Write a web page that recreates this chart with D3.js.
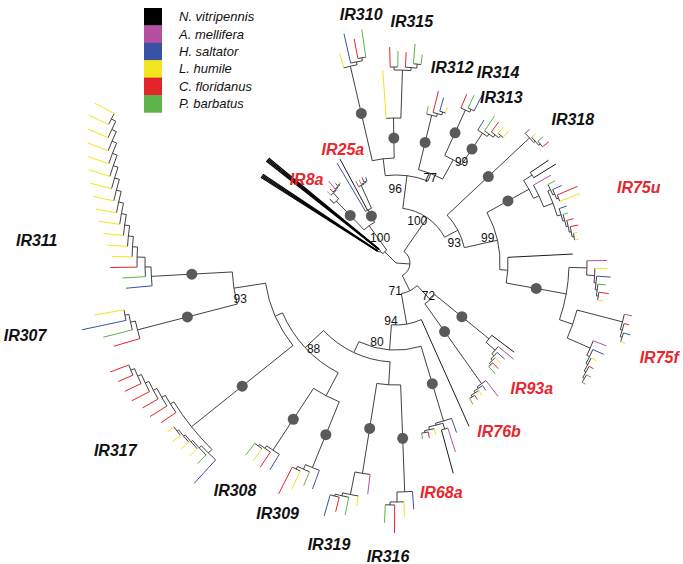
<!DOCTYPE html>
<html><head><meta charset="utf-8">
<script src="https://cdn.jsdelivr.net/npm/d3@7"></script>
<style>html,body{margin:0;padding:0;background:#fff;} svg{display:block;}</style>
</head><body>
<svg id="chart" width="683" height="564"></svg>
<script>
// ---------------- DATA ----------------
const SPECIES_NAMES = ["N. vitripennis", "A. mellifera", "H. saltator", "L. humile", "C. floridanus", "P. barbatus"];
const SPECIES_CODES = ["N", "A", "H", "L", "C", "P"];

// backbone of the tree (branch lengths, bootstrap support as internal labels); clade names are placeholders
const BACKBONE = "(((((IR310:0.97,IR315:0.40):0.17,(IR312:0.56,(IR314:0.50,IR313:0.38)99:0.22)77:0.08)96:0.33,(IR318:1.13,(IR75u:0.48,IR75f:0.08)99:0.34)93:0.15)100:0.41,((IR93a:0.70,IR76b:0.68)72:0.19,(X:1.17,(IR68a:0.78,((IR316:1.07,IR319:0.91):0.23,((IR309:0.71,IR308:0.74):0.26,(IR317:1.30,(IR307:1.03,IR311:0.81)93:0.32):0.08)88:0.25):0.12)80:0.25)94:0.31)71:0.17):0.14,((OUT1:0.02,OUT2:0.02):0.04,(IR8a:0.40,IR25a:0.14)100:0.30):0.16)";

const CLADE_NAMES = ["IR310", "IR315", "IR312", "IR314", "IR313", "IR318", "IR75u", "IR75f", "IR93a", "IR76b", "IR68a",
  "IR316", "IR319", "IR309", "IR308", "IR317", "IR307", "IR311", "OUT1", "OUT2", "IR8a", "IR25a"];
const CLADE_TREES = [
  "(L:0.15,(H:0.30,(C:0.20,P:0.28):0.03):0.03)o",
  "(L:0.48,((C:0.20,P:0.16):0.03,(C:0.15,(P:0.20,P:0.10):0.04):0.03):0.48)o",
  "(P:0.08,(C:0.22,(H:0.14,L:0.06):0.03):0.03)o",
  "(C:0.15,(P:0.14,H:0.18):0.03)o",
  "(H:0.12,(P:0.18,(C:0.12,(L:0.08,L:0.09):0.03):0.03):0.03)o",
  "(H:0.06,(L:0.05,(P:0.07,C:0.08):0.02):0.02)o",
  "((X:0.22,X:0.26):0.10,(A:0.20,((P:0.08,(H:0.10,(C:0.22,L:0.22):0.02):0.02):0.03,(H:0.08,(P:0.05,(C:0.07,(C:0.08,(L:0.04,L:0.04):0.02):0.02):0.02):0.02):0.04):0.10):0.06)o",
  "(X:0.65,((A:0.20,(L:0.12,(H:0.14,(P:0.08,(C:0.10,L:0.06):0.02):0.02):0.02):0.08):0.18,((A:0.08,(C:0.05,(H:0.07,L:0.05):0.02):0.02):0.47,(A:0.14,(H:0.12,(L:0.06,(C:0.05,(P:0.05,P:0.04):0.02):0.02):0.02):0.03):0.25):0.14)o:0.61)",
  "(X:0.28,(A:0.20,(H:0.10,(L:0.08,(C:0.08,P:0.10):0.02):0.02):0.03):0.12)o",
  "((A:0.20,(H:0.06,(L:0.06,(C:0.05,P:0.07):0.02):0.02):0.02):0.30)o",
  "(H:0.15,((A:0.25,X:0.45):0.06,(L:0.06,(C:0.06,P:0.06):0.02):0.03):0.02)o",
  "(H:0.18,(L:0.15,(C:0.28,P:0.18):0.03):0.10)o",
  "(A:0.20,(L:0.10,(P:0.18,(C:0.15,H:0.22):0.02):0.03):0.23)o",
  "(H:0.20,(P:0.15,(L:0.20,C:0.30):0.03):0.05)o",
  "(H:0.18,(C:0.18,(L:0.15,P:0.15):0.02):0.03)o",
  "((H:0.32,(P:0.12,(L:0.10,(L:0.10,(L:0.10,L:0.08):0.02):0.02):0.02):0.03):0.05,(C:0.18,(C:0.20,(C:0.18,(C:0.20,(C:0.18,(C:0.16,C:0.20):0.04):0.04):0.04):0.04):0.04):0.04)o",
  "(C:0.27,(P:0.30,(H:0.45,L:0.30):0.04):0.05)o",
  "(H:0.26,(P:0.23,(C:0.27,(L:0.20,(L:0.20,(L:0.20,(L:0.21,(L:0.21,(L:0.21,(L:0.22,(L:0.22,(L:0.22,(L:0.22,(L:0.22,(L:0.22,L:0.22):0.05):0.05):0.05):0.05):0.05):0.05):0.05):0.05):0.05):0.05):0.05):0.05):0.08):0.06)o",
  "(N:1.38,N:1.38,N:1.38,N:1.38)",
  "(N:1.43,N:1.43,N:1.43,N:1.43)",
  "(X:0.06,(P:0.05,(C:0.04,(A:0.10,(H:0.03,L:0.03):0.01):0.01):0.01):0.08)o",
  "(H:0.56,X:0.58,(A:0.06,(P:0.05,(C:0.05,H:0.04):0.01):0.01):0.25)o"
];
const CLADE_LABELS = ["IR310", "IR315", "IR312", "IR314", "IR313", "IR318", "IR75u", "IR75f", "IR93a", "IR76b", "IR68a",
  "IR316", "IR319", "IR309", "IR308", "IR317", "IR307", "IR311", "IR8a", "IR25a"];
const CONSERVED_CLADES = ["IR8a", "IR25a", "IR75u", "IR75f", "IR93a", "IR76b", "IR68a"];

// ---------------- STYLE / LAYOUT ----------------
const W = 683, H = 564;
const CENTER = [396, 263];
const START_ANGLE = 345;
const COLOR = { N: "#000000", X: "#1c1c1c", A: "#b4509f", H: "#3953a4", L: "#f1e51d", C: "#e4242b", P: "#5db448" };
const BRANCH = "#2b2b2b";
const RED_TEXT = "#e8262d";
const FONT = "'Liberation Sans', Arial, Helvetica, sans-serif";
// fine placement of the clade names (pixels)
const LABEL_NUDGE = {
  IR310: [17, 2], IR315: [9, -5], IR312: [5, -4], IR314: [12, 3], IR313: [-15, 0], IR318: [9, 6],
  IR75u: [28, 5], IR75f: [-3, 24], IR93a: [2, 2], IR76b: [-3, 5], IR68a: [-13, -2], IR316: [-12, 7],
  IR319: [-11, 4], IR309: [-5, -9], IR308: [-6, 4], IR317: [-2, -2], IR307: [-27, -8], IR311: [6, 50],
  IR8a: [-4, 16], IR25a: [7, 16]
};
// fine placement of the support values, in pre-order of their nodes (pixels)
const SUPPORT_NUDGE = [[2, 3], [-3, 13], [8, 4], [17, 2], [5, 13], [-1, -2], [-6, 0], [7, -4], [-7, -3], [-4, -8], [17, 1], [15, 11], [23, 12]];

// ---------------- PARSE ----------------
function parseNewick(str) {
  let i = 0;
  function node() {
    const n = { name: "", length: 0 };
    if (str[i] === "(") {
      i++;
      n.children = [node()];
      while (str[i] === ",") { i++; n.children.push(node()); }
      i++;
    }
    let s = i;
    while (i < str.length && !":,();".includes(str[i])) i++;
    n.name = str.slice(s, i);
    if (str[i] === ":") {
      i++; s = i;
      while (i < str.length && !",();".includes(str[i])) i++;
      n.length = parseFloat(str.slice(s, i));
    }
    return n;
  }
  return node();
}
function tag(n, g) { n.group = g; (n.children || []).forEach(c => tag(c, g)); }
const cladeMap = new Map(CLADE_NAMES.map((n, k) => [n, CLADE_TREES[k]]));
function graft(n) {
  if (n.children) { n.children = n.children.map(graft); return n; }
  if (cladeMap.has(n.name)) {
    const sub = parseNewick(cladeMap.get(n.name));
    sub.length = n.length;
    tag(sub, n.name);
    sub.clade = n.name;
    return sub;
  }
  if (n.name === "X") n.group = "BLK";
  return n;
}
const treeData = graft(parseNewick(BACKBONE));

// ---------------- LAYOUT ----------------
const root = d3.hierarchy(treeData, d => d.children);
d3.cluster().size([360, 1]).separation((a, b) => {
  if (a.data.group !== b.data.group) return 2;
  if (a.data.name === "N" && b.data.name === "N") return 0.2;
  return 1;
})(root);
const rScale = d3.scaleLinear().domain([0, 1]).range([0, 100]);
root.eachBefore(d => { d.len = d.parent ? d.parent.len + d.data.length : 0; d.r = rScale(d.len); });
const rot = START_ANGLE - root.leaves()[0].x;
root.each(d => { d.ang = d.x + rot; });
const rad = a => a * Math.PI / 180;
const pt = (a, r) => [r * Math.sin(rad(a)), -r * Math.cos(rad(a))];

// ---------------- DRAW ----------------
const svg = d3.select("#chart");
svg.append("rect").attr("width", W).attr("height", H).attr("fill", "#fff");
const g = svg.append("g").attr("transform", `translate(${CENTER[0]},${CENTER[1]})`);

// arcs of internal nodes
const arcs = root.descendants().filter(d => d.children && d.r > 0 && d.children.length > 1);
g.append("g").selectAll("path").data(arcs).join("path")
  .attr("fill", "none").attr("stroke", BRANCH).attr("stroke-width", 0.9)
  .attr("d", d => {
    const a0 = d3.min(d.children, c => c.ang), a1 = d3.max(d.children, c => c.ang);
    const p = d3.path();
    const s = pt(a0, d.r);
    p.moveTo(s[0], s[1]);
    p.arc(0, 0, d.r, rad(a0 - 90), rad(a1 - 90), false);
    return p.toString();
  });

// radial branches
const links = root.descendants().filter(d => d.parent);
const inner = links.filter(d => d.children);
const tips = links.filter(d => !d.children);
function radial(d) {
  const a = pt(d.ang, d.parent.r), b = pt(d.ang, d.r);
  return `M${a[0]},${a[1]}L${b[0]},${b[1]}`;
}
g.append("g").selectAll("path").data(inner).join("path")
  .attr("fill", "none").attr("stroke", BRANCH).attr("stroke-width", 0.9).attr("d", radial);
g.append("g").selectAll("path").data(tips).join("path")
  .attr("fill", "none")
  .attr("stroke", d => COLOR[d.data.name] || BRANCH)
  .attr("stroke-width", d => d.data.name === "N" ? 1.3 : 1)
  .attr("d", radial);

// grey circles on ortholog-group stems
const marked = links.filter(d => d.data.name === "o");
g.append("g").selectAll("circle").data(marked).join("circle")
  .attr("r", 5.5).attr("fill", "#5a5a5a")
  .attr("cx", d => pt(d.ang, (d.r + d.parent.r) / 2)[0])
  .attr("cy", d => pt(d.ang, (d.r + d.parent.r) / 2)[1]);

// bootstrap support labels
const supported = [];
root.eachBefore(d => { if (/^\d+$/.test(d.data.name)) supported.push(d); });
g.append("g").selectAll("text").data(supported).join("text")
  .attr("font-family", FONT).attr("font-size", 12).attr("fill", "#111")
  .attr("text-anchor", "end")
  .attr("x", (d, k) => pt(d.ang, d.r)[0] - 2 + (SUPPORT_NUDGE[k] || [0, 0])[0])
  .attr("y", (d, k) => pt(d.ang, d.r)[1] + 4 + (SUPPORT_NUDGE[k] || [0, 0])[1])
  .text(d => d.data.name);

// clade labels
const cladeNodes = new Map();
root.descendants().forEach(d => { if (d.data.clade) cladeNodes.set(d.data.clade, d); });
const lab = g.append("g");
CLADE_LABELS.forEach(name => {
  const node = cladeNodes.get(name);
  const lv = node.leaves();
  const aMid = (d3.min(lv, d => d.ang) + d3.max(lv, d => d.ang)) / 2;
  const rMax = d3.max(lv, d => d.r);
  const t = lab.append("text")
    .attr("font-family", FONT).attr("font-size", 16).attr("font-weight", "bold").attr("font-style", "italic")
    .attr("fill", CONSERVED_CLADES.includes(name) ? RED_TEXT : "#111")
    .attr("text-anchor", "middle").attr("dominant-baseline", "central")
    .text(name);
  const w = t.node().getComputedTextLength();
  const rr = rMax + 10 + (w / 2) * Math.abs(Math.sin(rad(aMid))) + 6 * Math.abs(Math.cos(rad(aMid)));
  const p = pt(aMid, rr);
  const nd = LABEL_NUDGE[name] || [0, 0];
  t.attr("x", p[0] + nd[0]).attr("y", p[1] + nd[1]);
});

// legend
const leg = svg.append("g");
const ROW = 17.4;
SPECIES_NAMES.forEach((s, k) => {
  leg.append("rect").attr("x", 144).attr("y", 8 + k * ROW).attr("width", 18).attr("height", ROW + 0.3)
    .attr("fill", COLOR[SPECIES_CODES[k]]);
  leg.append("text").attr("x", 179).attr("y", 8 + k * ROW + ROW / 2).attr("dominant-baseline", "central")
    .attr("font-family", FONT).attr("font-size", 13).attr("font-style", "italic").attr("fill", "#111")
    .text(s);
});
</script>
</body></html>
